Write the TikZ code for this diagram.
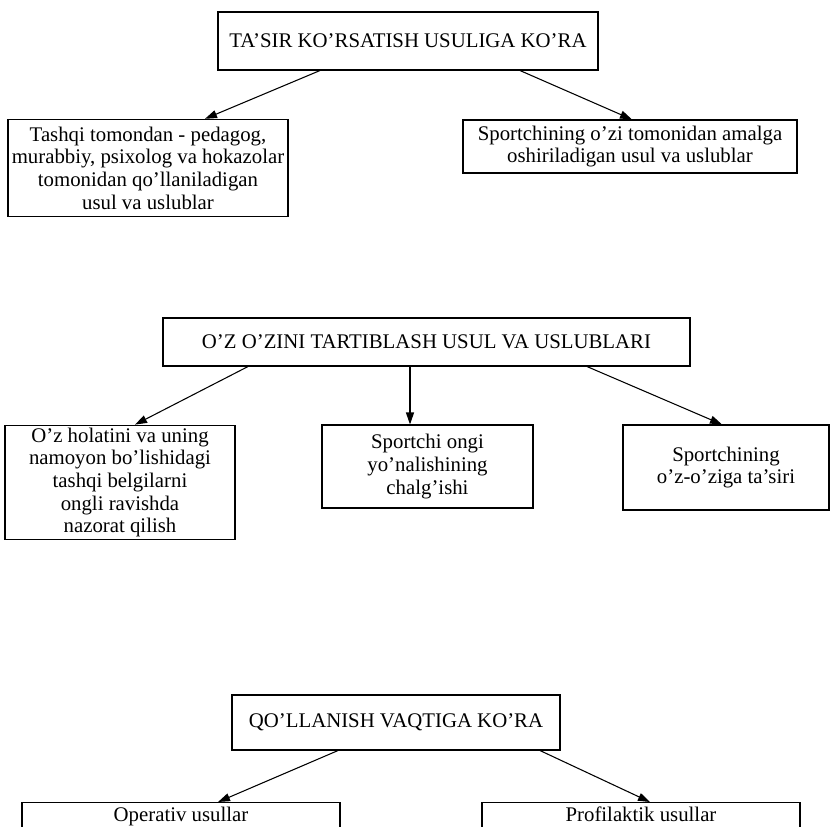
\documentclass[tikz,border=0pt]{standalone}
\usepackage{fontspec}
\setmainfont{Liberation Serif}
\usetikzlibrary{arrows.meta,calc}
\begin{document}
\begin{tikzpicture}[x=0.75pt,y=-0.75pt,
  box/.style={draw, line width=0.8pt, inner sep=0pt, align=center,
    font=\fontsize{15.6}{17}\selectfont},
  arr/.style={line width=0.8pt, -{Triangle[length=9pt,width=6pt]}}]
\useasboundingbox (0,0) rectangle (831,826);
% section 1
\node[box, minimum width=285pt, minimum height=43.5pt] (t1) at (408,41) {TA'SIR KO'RSATISH USULIGA KO'RA};
\node[box, minimum width=210pt, minimum height=73pt] (l1) at (148,168) {Tashqi tomondan - pedagog,\\murabbiy, psixolog va hokazolar\\tomonidan qo'llaniladigan\\usul va uslublar};
\node[box, minimum width=250.5pt, minimum height=39.75pt] (r1) at (630,146.5) {Sportchining o'zi tomonidan amalga\\oshiriladigan usul va uslublar};
\draw[arr] ($(t1.south)+(-88,0)$) -- ($(l1.north)+(57,0)$);
\draw[arr] ($(t1.south)+(112,0)$) -- ($(r1.north)+(2,0)$);
% section 2
\node[box, minimum width=395.25pt, minimum height=36pt] (t2) at (426.5,342) {O'Z O'ZINI TARTIBLASH USUL VA USLUBLARI};
\node[box, minimum width=172.5pt, minimum height=86pt] (l2) at (120,482.5) {O'z holatini va uning\\namoyon bo'lishidagi\\tashqi belgilarni\\ongli ravishda\\nazorat qilish};
\node[box, minimum width=158.25pt, minimum height=62.25pt] (m2) at (427.5,466.5) {Sportchi ongi\\yo'nalishining\\chalg'ishi};
\node[box, minimum width=154.5pt, minimum height=63.75pt] (r2) at (726,467.5) {Sportchining\\o'z-o'ziga ta'siri};
\draw[arr] ($(t2.south)+(-178.5,0)$) -- ($(l2.north)+(15,0)$);
\draw[arr] ($(t2.south)+(-16.5,0)$) -- ($(m2.north)+(-17.5,0)$);
\draw[arr] ($(t2.south)+(160.5,0)$) -- ($(r2.north)+(-4,0)$);
% section 3
\node[box, minimum width=246pt, minimum height=41.25pt] (t3) at (396,722.5) {QO'LLANISH VAQTIGA KO'RA};
\node[box, minimum width=238.5pt, anchor=north, text height=14pt, text depth=40pt] (b1) at (181,802) {Operativ usullar};
\node[box, minimum width=238.5pt, anchor=north, text height=14pt, text depth=40pt] (b2) at (641,802) {Profilaktik usullar};
\draw[arr] ($(t3.south)+(-58,0)$) -- ($(b1.north)+(37,0)$);
\draw[arr] ($(t3.south)+(144,0)$) -- ($(b2.north)+(9,0)$);
\end{tikzpicture}
\end{document}
